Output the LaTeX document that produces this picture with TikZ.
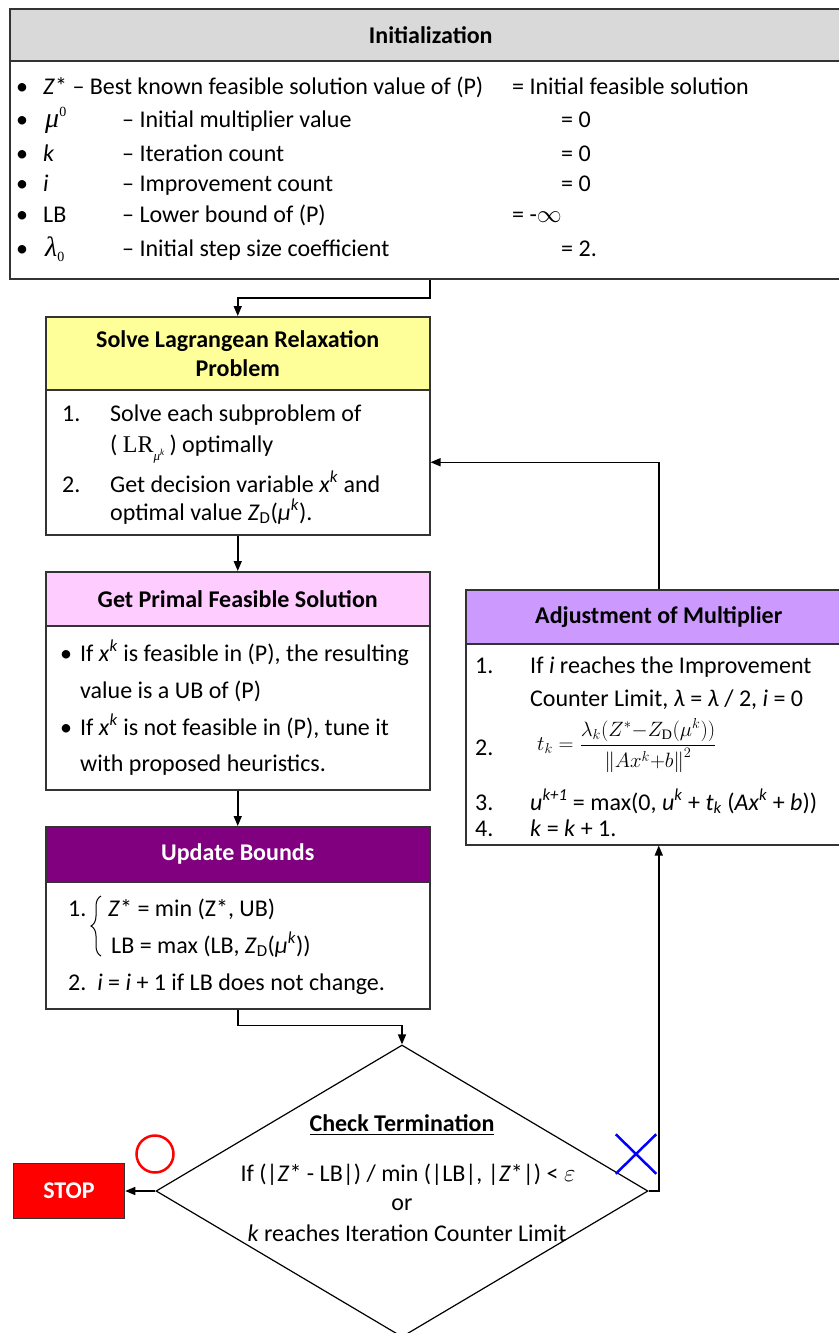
\documentclass[tikz,border=0pt]{standalone}
\usepackage{amsmath}
\usepackage{fontspec}
\setmainfont{Carlito}
\newfontfamily\tmsfont{Liberation Serif}
\usetikzlibrary{shapes.geometric,shapes.misc,arrows.meta,decorations.pathreplacing}
\definecolor{initgray}{HTML}{D9D9D9}
\definecolor{lryellow}{HTML}{FFFF99}
\definecolor{primpink}{HTML}{FFCCFF}
\definecolor{updpurple}{HTML}{800080}
\definecolor{adjlav}{HTML}{CC99FF}
\definecolor{stopred}{HTML}{FF0000}
\begin{document}
\begin{tikzpicture}[x=1pt,y=-1pt,
  font=\fontsize{24}{29}\selectfont,
  frame/.style={draw=black!80,line width=1.5pt,inner sep=0pt,anchor=north west},
  head/.style={frame,font=\fontsize{24}{29}\selectfont\bfseries,align=center},
  txt/.style={anchor=base west,inner sep=0pt},
  ctxt/.style={anchor=base,inner sep=0pt},
  arr/.style={draw=black,line width=1.5pt,-{Triangle[length=10pt,width=8pt]}},
]
\useasboundingbox (0,0) rectangle (838,1333);

% ---------- Initialization ----------
\node[head,fill=initgray,minimum width=842,minimum height=52] (inith) at (9,8) {Initialization};
\node[frame,minimum width=842,minimum height=218] (initb) at (9,60) {};
\node[txt] (r1a) at (16,94) {\makebox[27pt][l]{•}\textit{Z}* – Best known feasible solution value of (P)};
\node[txt] (r1b) at (512,94) {= Initial feasible solution};
\node[txt] (r2a) at (16,127) {\makebox[29pt][l]{•}{\fontsize{28}{29}\selectfont\tmsfont\itshape μ}\raisebox{11pt}{\fontsize{14}{14}\selectfont\tmsfont 0}};
\node[txt] (r2b) at (122,127) {– Initial multiplier value};
\node[txt] (r2c) at (561,127) {= 0};
\node[txt] (r3a) at (16,161) {\makebox[27pt][l]{•}\textit{k}};
\node[txt] (r3b) at (122,161) {– Iteration count};
\node[txt] (r3c) at (561,161) {= 0};
\node[txt] (r4a) at (16,191) {\makebox[27pt][l]{•}\textit{i}};
\node[txt] (r4b) at (122,191) {– Improvement count};
\node[txt] (r4c) at (561,191) {= 0};
\node[txt] (r5a) at (16,222) {\makebox[27pt][l]{•}LB};
\node[txt] (r5b) at (122,222) {– Lower bound of (P)};
\node[txt] (r5c) at (512,222) {= -$\infty$};
\node[txt] (r6a) at (16,256) {\makebox[29pt][l]{•}{\fontsize{28}{29}\selectfont\tmsfont\itshape λ}\raisebox{-5pt}{\fontsize{14}{14}\selectfont\tmsfont 0}};
\node[txt] (r6b) at (122,256) {– Initial step size coefficient};
\node[txt] (r6c) at (561,256) {= 2.};

% ---------- Lagrangean relaxation ----------
\node[head,fill=lryellow,minimum width=384,minimum height=73] (lrh) at (45,316) {Solve Lagrangean Relaxation\\Problem};
\node[frame,minimum width=384,minimum height=145] (lrb) at (45,389) {};
\node[txt] (s1n) at (62,421) {1.};
\node[txt] (s1) at (110,421) {Solve each subproblem of};
\node[txt] (s1b) at (110,452) {( {\tmsfont LR}\raisebox{-8pt}{\fontsize{13}{13}\selectfont\tmsfont\itshape μ\raisebox{5pt}{\fontsize{9}{9}\selectfont k}} ) optimally};
\node[txt] (s2n) at (62,492) {2.};
\node[txt] (s2) at (110,492) {Get decision variable \textit{x}\textsuperscript{\textit{k}} and};
\node[txt] (s2b) at (110,520) {optimal value \textit{Z}\textsubscript{D}(\textit{μ}\textsuperscript{\textit{k}}).};

% ---------- Primal feasible solution ----------
\node[head,fill=primpink,minimum width=384,minimum height=54] (prh) at (45,571) {Get Primal Feasible Solution};
\node[frame,minimum width=384,minimum height=164] (prb) at (45,625) {};
\node[txt] (p1) at (60,661) {\makebox[20pt][l]{•}If \textit{x}\textsuperscript{\textit{k}} is feasible in (P), the resulting};
\node[txt] (p1b) at (80,698) {value is a UB of (P)};
\node[txt] (p2) at (60,735) {\makebox[20pt][l]{•}If \textit{x}\textsuperscript{\textit{k}} is not feasible in (P), tune it};
\node[txt] (p2b) at (80,771) {with proposed heuristics.};

% ---------- Update bounds ----------
\node[head,fill=updpurple,text=white,minimum width=384,minimum height=55] (uph) at (45,826) {Update Bounds};
\node[frame,minimum width=384,minimum height=127] (upb) at (45,881) {};
\node[txt] (u1n) at (68,916) {1.};
\draw[line width=1pt,decorate,decoration={brace,amplitude=10pt}] (101,956) -- (101,896);
\node[txt] (u1) at (108,916) {\textit{Z}* = min (Z*, UB)};
\node[txt] (u1b) at (111,953) {LB = max (LB, \textit{Z}\textsubscript{D}(\textit{μ}\textsuperscript{\textit{k}}))};
\node[txt] (u2) at (68,990) {2.\ \ \textit{i} = \textit{i} + 1 if LB does not change.};

% ---------- Adjustment of multiplier ----------
\node[head,fill=adjlav,minimum width=386,minimum height=54] (adh) at (465,589) {Adjustment of Multiplier};
\node[frame,minimum width=386,minimum height=201] (adb) at (465,643) {};
\node[txt] (a1n) at (475,673) {1.};
\node[txt] (a1) at (530,673) {If \textit{i} reaches the Improvement};
\node[txt] (a1b) at (530,706) {Counter Limit, \textit{λ} = \textit{λ} / 2, \textit{i} = 0};
\node[txt] (a2n) at (475,755) {2.};
\node[anchor=west,inner sep=0pt,font=\fontsize{17.28}{20}\selectfont] (a2) at (537,746)
  {\scalebox{1.2}{$t_k=\dfrac{\lambda_k(Z^*{-}Z_{\textrm{\tmsfont D}}(\mu^k))}{\left\|Ax^k{+}b\right\|^2}$}};
\node[txt] (a3n) at (475,810) {3.};
\node[txt] (a3) at (530,810) {\textit{u}\textsuperscript{\textit{k+1}} = max(0, \textit{u}\textsuperscript{\textit{k}} + \textit{t}\textsubscript{\textit{k}} (\textit{Ax}\textsuperscript{\textit{k}} + \textit{b}))};
\node[txt] (a4n) at (475,836) {4.};
\node[txt] (a4) at (530,836) {\textit{k} = \textit{k} + 1.};

% ---------- Termination check ----------
\node[diamond,draw=black,line width=1.2pt,minimum width=492,minimum height=292,inner sep=0pt] (check) at (402,1191) {};
\node[ctxt] (ct) at (402,1131) {\bfseries\underline{Check Termination}};
\node[ctxt] (c1) at (408,1181) {If (|\textit{Z}* - LB|) / min (|LB|, |\textit{Z}*|) < $\varepsilon$};
\node[ctxt] (c2) at (402,1210) {or};
\node[ctxt] (c3) at (407,1241) {\textit{k} reaches Iteration Counter Limit};

\node[draw=black!80,fill=stopred,line width=1.5pt,minimum width=111,minimum height=55,inner sep=0pt,
      text=white,font=\fontsize{24}{29}\selectfont\bfseries] (stop) at (69,1191) {STOP};
\node[circle,draw=red,line width=2.5pt,minimum size=37,inner sep=0pt] (yes) at (155,1154) {};
\node[cross out,draw=blue,line width=2.5pt,minimum width=38,minimum height=37,inner sep=0pt] (no) at (636,1154) {};

% ---------- Connectors ----------
\coordinate (k1) at (430,298);
\draw[arr] (k1 |- initb.south) -- (k1) -| (lrh.north);
\draw[arr] (lrb.south) -- (prh.north);
\draw[arr] (prb.south) -- (uph.north);
\draw[arr] (upb.south) -- ++(0,16) -| (check.north);
\draw[arr] (check.west) -- (stop.east);
\draw[arr] (check.east) -| (adb.south);
\draw[arr] (adh.north) |- (lrb.east);
\end{tikzpicture}
\end{document}
